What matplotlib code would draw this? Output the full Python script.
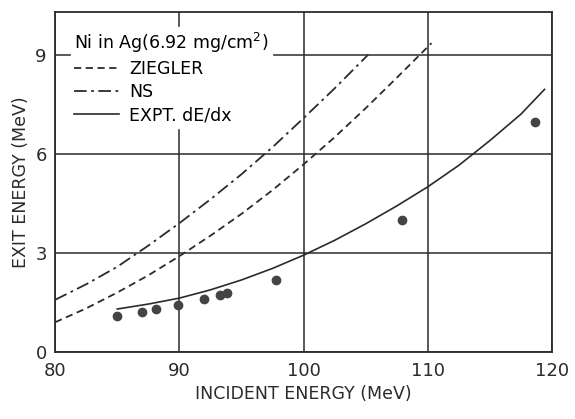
import numpy as np
import matplotlib
matplotlib.use("Agg")
import matplotlib.pyplot as plt

# measured points (incident, exit) in MeV
pts_x = [85.0, 87.0, 88.1, 89.9, 92.0, 93.3, 93.8, 97.8, 107.9, 118.6]
pts_y = [1.10, 1.20, 1.30, 1.42, 1.60, 1.73, 1.79, 2.18, 4.00, 6.97]

# curves
zieg_x = [80, 82.5, 85, 87.5, 90, 92.5, 95, 97.5, 100, 102.5, 105, 107.5, 110.3]
zieg_y = [0.90, 1.32, 1.80, 2.32, 2.90, 3.52, 4.18, 4.90, 5.68, 6.50, 7.38, 8.30, 9.35]

ns_x = [80, 82.5, 85, 87.5, 90, 92.5, 95, 97.5, 100, 102.5, 105.2]
ns_y = [1.58, 2.05, 2.58, 3.22, 3.90, 4.62, 5.38, 6.20, 7.08, 7.98, 9.00]

expt_x = [85, 87.5, 90, 92.5, 95, 97.5, 100, 102.5, 105, 107.5, 110, 112.5, 115, 117.5, 119.4]
expt_y = [1.30, 1.45, 1.63, 1.88, 2.18, 2.53, 2.93, 3.38, 3.88, 4.42, 5.00, 5.65, 6.40, 7.20, 7.95]

xticks = [80, 90, 100, 110, 120]
yticks = [0, 3, 6, 9]

ink = "#2b2b2b"
plt.rcParams["font.family"] = "DejaVu Sans"

fig = plt.figure(figsize=(5.75, 4.19), dpi=100)
ax = fig.add_axes([0.096, 0.16, 0.864, 0.812])

ax.plot(zieg_x, zieg_y, color=ink, lw=1.3, ls=(0, (4, 2.5)), label="ZIEGLER")
ax.plot(ns_x, ns_y, color=ink, lw=1.3, ls=(0, (7, 2.5, 1.5, 2.5)), label="NS")
ax.plot(expt_x, expt_y, color=ink, lw=1.2, ls="-", label="EXPT. dE/dx")
ax.plot(pts_x, pts_y, "o", color="#444444", ms=6, zorder=4)

ax.set_xlim(80, 120)
ax.set_ylim(0, 10.3)
ax.set_xticks(xticks)
ax.set_yticks(yticks)
ax.tick_params(length=0, labelsize=13, colors=ink)
ax.tick_params(axis="x", pad=7)
ax.tick_params(axis="y", pad=6)
ax.grid(True, color=ink, lw=1.1)
ax.set_axisbelow(True)
for s in ax.spines.values():
    s.set_color(ink)
    s.set_linewidth(1.3)

ax.set_xlabel("INCIDENT ENERGY (MeV)", fontsize=12.5, color=ink, labelpad=4)
ax.set_ylabel("EXIT ENERGY (MeV)", fontsize=12.5, color=ink, labelpad=4)

leg = ax.legend(loc="upper left", title="Ni in Ag(6.92 mg/cm$^{2}$)",
                fontsize=12.5, title_fontsize=12.5, frameon=True, fancybox=False,
                handlelength=2.6, handletextpad=0.55, labelspacing=0.3,
                borderaxespad=0.9, borderpad=0.2, alignment="left")
leg.get_frame().set_facecolor("white")
leg.get_frame().set_edgecolor("white")
leg.get_frame().set_alpha(1.0)

fig.savefig("out.png", dpi=100)
